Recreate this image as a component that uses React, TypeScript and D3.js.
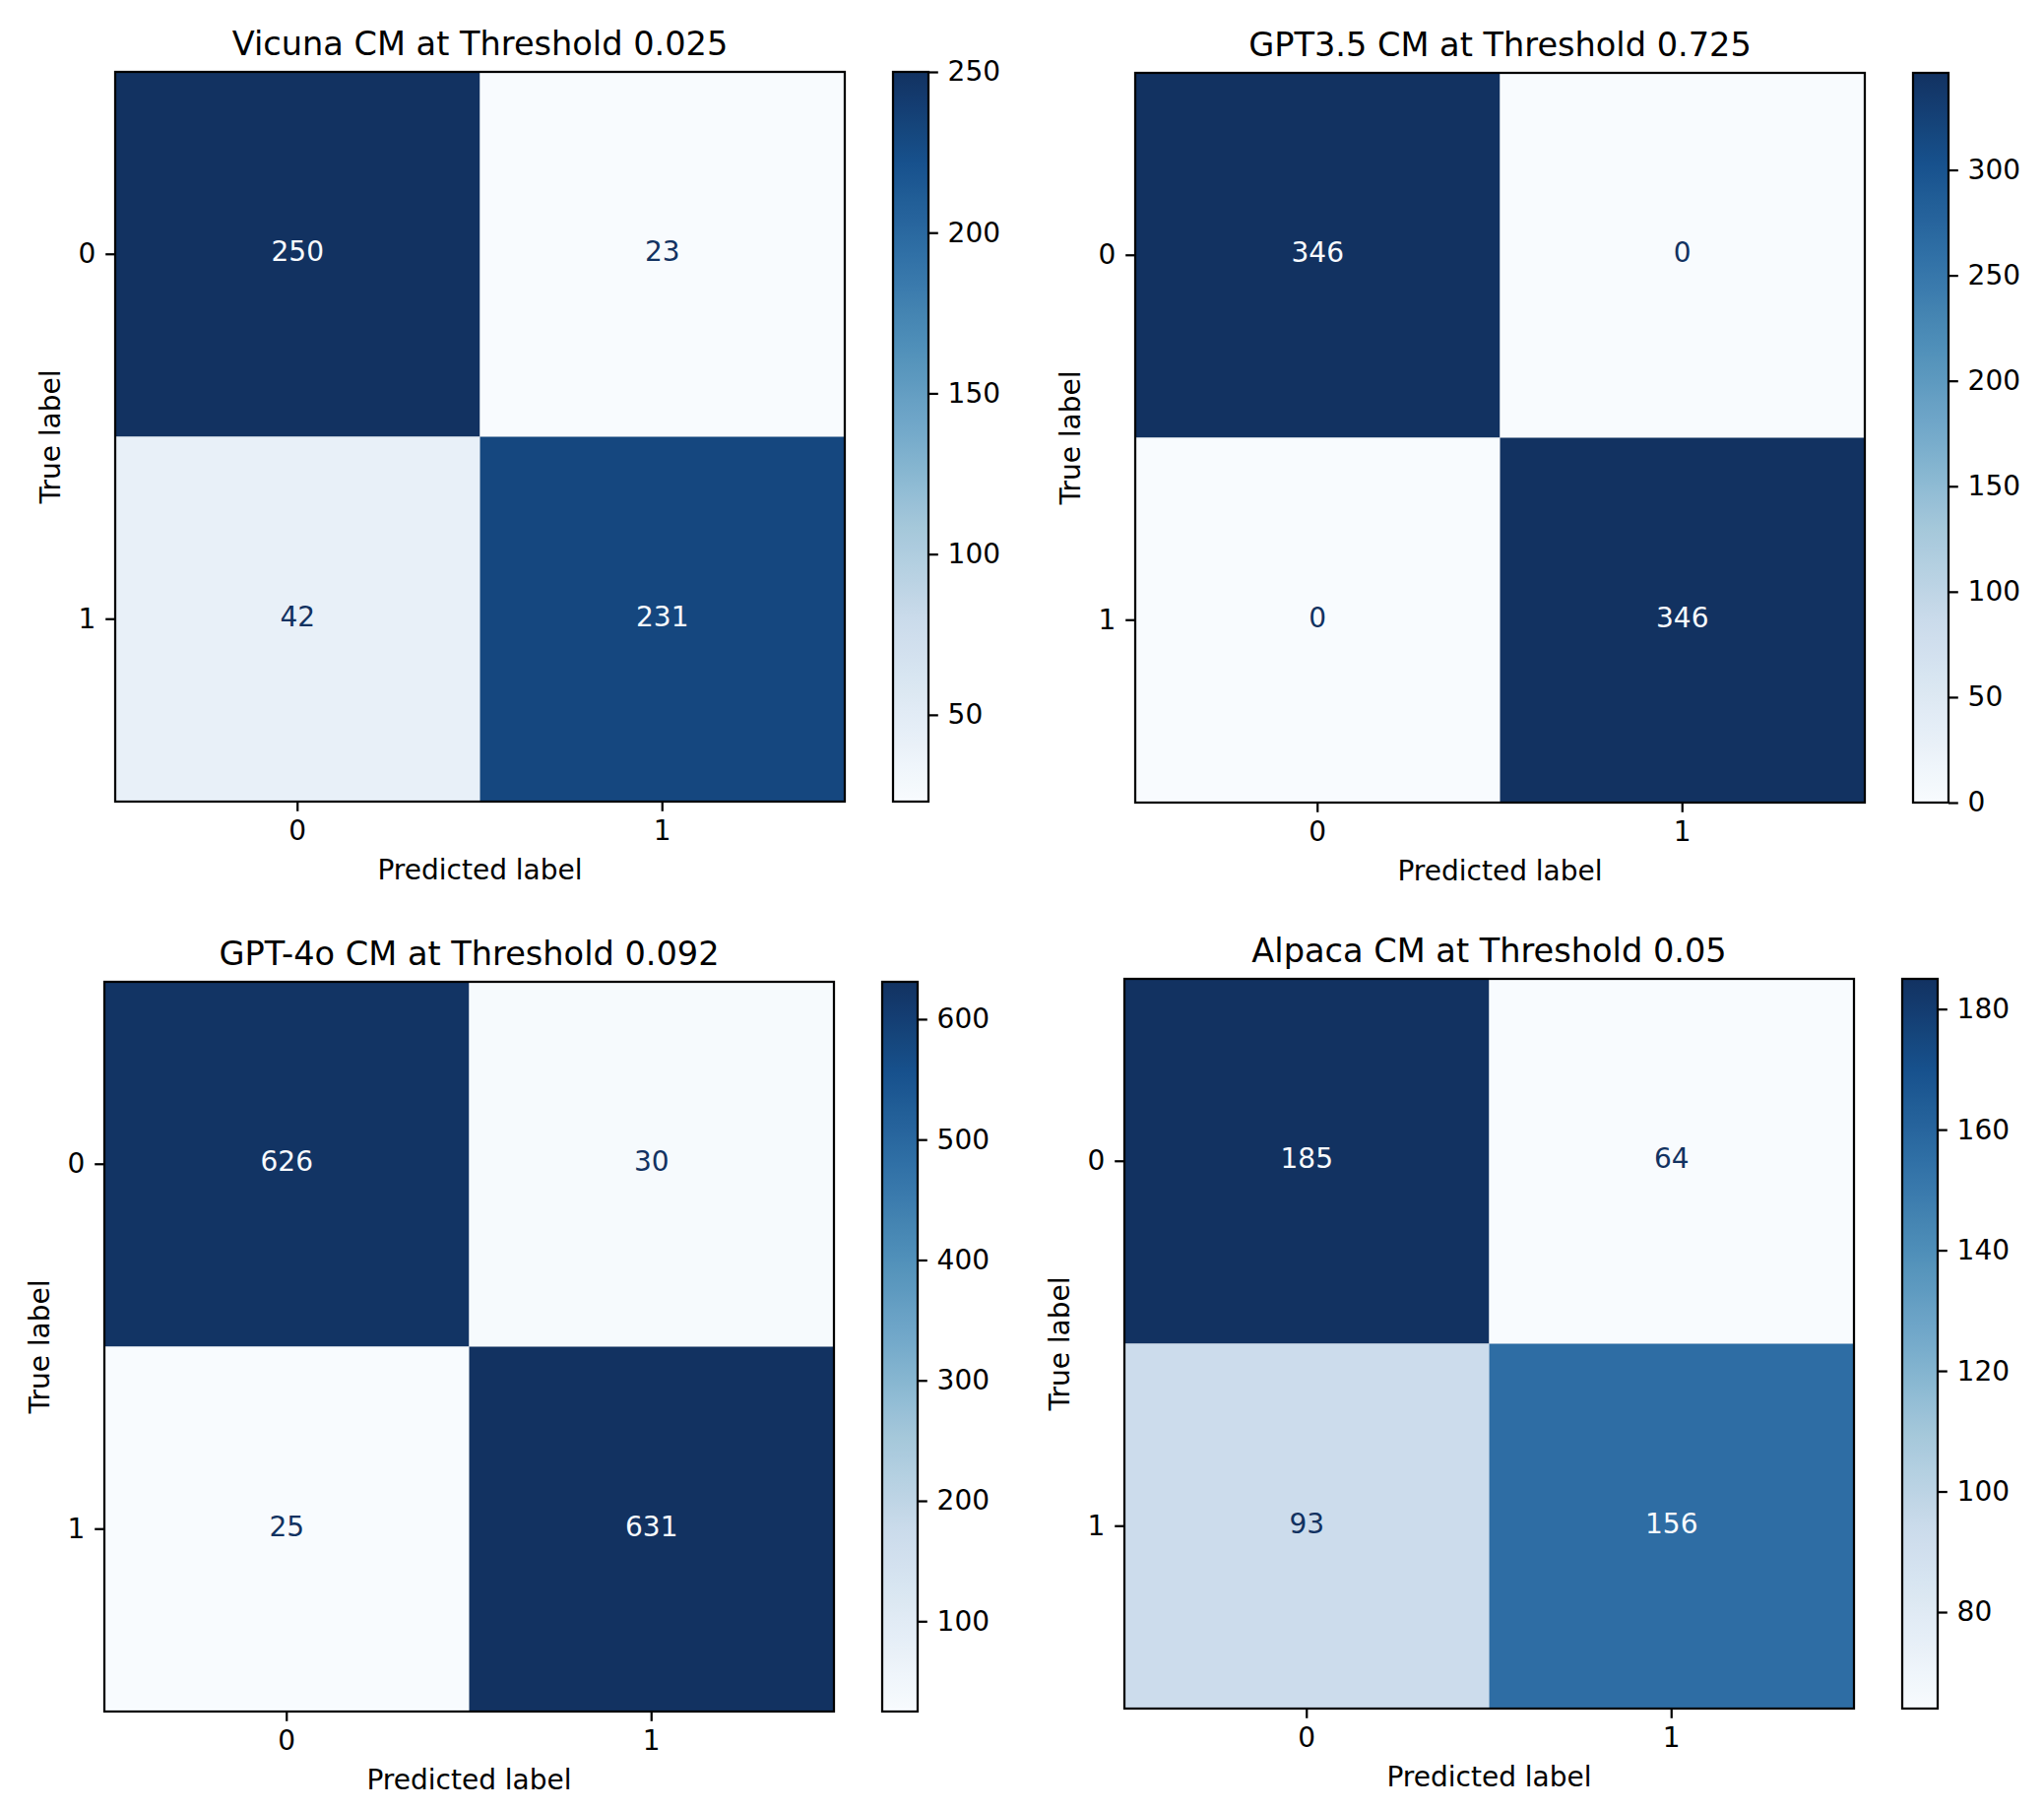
import { useEffect, useRef } from "react"
import * as d3 from "d3"

// confusion matrices, rows = true label, cols = predicted label
const CLASS_LABELS = ["0", "1"]
const MODEL_NAMES = ["Vicuna", "GPT3.5", "GPT-4o", "Alpaca"]
const THRESHOLDS = ["0.025", "0.725", "0.092", "0.05"]

const VICUNA_CM = [
  [250, 23],
  [42, 231],
]
const GPT35_CM = [
  [346, 0],
  [0, 346],
]
const GPT4O_CM = [
  [626, 30],
  [25, 631],
]
const ALPACA_CM = [
  [185, 64],
  [93, 156],
]

// colorbar tick labels
const VICUNA_TICKS = [50, 100, 150, 200, 250]
const GPT35_TICKS = [0, 50, 100, 150, 200, 250, 300]
const GPT4O_TICKS = [100, 200, 300, 400, 500, 600]
const ALPACA_TICKS = [80, 100, 120, 140, 160, 180]

const MATRICES = [VICUNA_CM, GPT35_CM, GPT4O_CM, ALPACA_CM]
const CBAR_TICKS = [VICUNA_TICKS, GPT35_TICKS, GPT4O_TICKS, ALPACA_TICKS]

// matplotlib "Blues"
const BLUES = ["#f7fbff", "#deebf7", "#c6dbef", "#9ecae1", "#6baed6", "#4292c6", "#2171b5", "#08519c", "#08306b"]

const WIDTH = 2076
const HEIGHT = 1838
const FONT = "DejaVu Sans, Verdana, sans-serif"
const PT = 2.8 // px per point
const AX = 741
const CBAR_GAP = 49
const CBAR_W = 36
const PANEL_ORIGINS = [
  [117, 73],
  [1153, 74],
  [106, 997],
  [1142, 994],
]

export default function App() {
  const svgRef = useRef<SVGSVGElement>(null)

  useEffect(() => {
    if (!svgRef.current) return
    const svg = d3.select(svgRef.current)
    svg.selectAll("*").remove()

    // the reference screenshot looks a little washed out, so tone the colormap down a bit
    const baseCmap = d3.piecewise(d3.interpolateRgb, BLUES)
    const cmap = (t: number) => {
      const c = d3.hsl(baseCmap(t))
      c.s *= 0.8
      return c.formatHex()
    }
    const tickLen = 3.5 * PT
    const lineW = 0.8 * PT
    const tickFont = 10 * PT
    const titleFont = 12 * PT

    // vertical gradient for the colorbars
    const grad = svg
      .append("defs")
      .append("linearGradient")
      .attr("id", "blues-grad")
      .attr("x1", 0)
      .attr("y1", 1)
      .attr("x2", 0)
      .attr("y2", 0)
    grad
      .selectAll("stop")
      .data(d3.range(0, 1.0001, 0.025))
      .enter()
      .append("stop")
      .attr("offset", (d) => d)
      .attr("stop-color", (d) => cmap(d))

    const styleAxis = (sel: d3.Selection<SVGGElement, unknown, null, undefined>) => {
      sel.attr("font-size", tickFont).attr("font-family", FONT).attr("color", "#000")
      sel.select(".domain").remove()
      sel.selectAll(".tick line").attr("stroke-width", lineW)
      sel.selectAll(".tick text").attr("fill", "#000")
    }

    MATRICES.forEach((matrix, i) => {
      const [ox, oy] = PANEL_ORIGINS[i]
      const g = svg.append("g").attr("transform", `translate(${ox},${oy})`)

      const flat = matrix.flat()
      const lo = d3.min(flat) as number
      const hi = d3.max(flat) as number
      const color = d3.scaleSequential(cmap).domain([lo, hi])
      const thresh = (lo + hi) / 2

      const x = d3.scaleBand().domain(CLASS_LABELS).range([0, AX])
      const y = d3.scaleBand().domain(CLASS_LABELS).range([0, AX])

      const cells = matrix.flatMap((row, r) => row.map((v, c) => ({ r, c, v })))

      g.selectAll(".cell")
        .data(cells)
        .enter()
        .append("rect")
        .attr("class", "cell")
        .attr("x", (d) => x(CLASS_LABELS[d.c]) as number)
        .attr("y", (d) => y(CLASS_LABELS[d.r]) as number)
        .attr("width", x.bandwidth())
        .attr("height", y.bandwidth())
        .attr("fill", (d) => color(d.v))

      g.selectAll(".val")
        .data(cells)
        .enter()
        .append("text")
        .attr("class", "val")
        .attr("x", (d) => (x(CLASS_LABELS[d.c]) as number) + x.bandwidth() / 2)
        .attr("y", (d) => (y(CLASS_LABELS[d.r]) as number) + y.bandwidth() / 2)
        .attr("dy", "0.25em")
        .attr("text-anchor", "middle")
        .attr("font-family", FONT)
        .attr("font-size", tickFont)
        .attr("fill", (d) => (d.v < thresh ? cmap(1) : cmap(0)))
        .text((d) => d.v)

      // axes
      g.append("g")
        .attr("transform", `translate(0,${AX})`)
        .call(d3.axisBottom(x).tickSize(tickLen).tickPadding(tickLen))
        .call(styleAxis)

      g.append("g").call(d3.axisLeft(y).tickSize(tickLen).tickPadding(tickLen)).call(styleAxis)

      g.append("rect")
        .attr("width", AX)
        .attr("height", AX)
        .attr("fill", "none")
        .attr("stroke", "#000")
        .attr("stroke-width", lineW)

      // labels
      g.append("text")
        .attr("x", AX / 2)
        .attr("y", -6 * PT)
        .attr("text-anchor", "middle")
        .attr("font-family", FONT)
        .attr("font-size", titleFont)
        .attr("fill", "#000")
        .text(`${MODEL_NAMES[i]} CM at Threshold ${THRESHOLDS[i]}`)

      g.append("text")
        .attr("x", AX / 2)
        .attr("y", AX + 79)
        .attr("text-anchor", "middle")
        .attr("font-family", FONT)
        .attr("font-size", tickFont)
        .attr("fill", "#000")
        .text("Predicted label")

      g.append("text")
        .attr("transform", `translate(-56,${AX / 2}) rotate(-90)`)
        .attr("text-anchor", "middle")
        .attr("font-family", FONT)
        .attr("font-size", tickFont)
        .attr("fill", "#000")
        .text("True label")

      // colorbar
      const cb = g.append("g").attr("transform", `translate(${AX + CBAR_GAP},0)`)
      cb.append("rect")
        .attr("width", CBAR_W)
        .attr("height", AX)
        .attr("fill", "url(#blues-grad)")
        .attr("stroke", "#000")
        .attr("stroke-width", lineW)

      const cScale = d3.scaleLinear().domain([lo, hi]).range([AX, 0])
      cb.append("g")
        .attr("transform", `translate(${CBAR_W},0)`)
        .call(d3.axisRight(cScale).tickValues(CBAR_TICKS[i]).tickSize(tickLen).tickPadding(tickLen).tickFormat(d3.format("d")))
        .call(styleAxis)
    })
  }, [])

  return (
    <div style={{ position: "absolute", left: 0, top: 0 }}>
      <svg ref={svgRef} width={WIDTH} height={HEIGHT} style={{ display: "block", background: "#fff" }} />
    </div>
  )
}
